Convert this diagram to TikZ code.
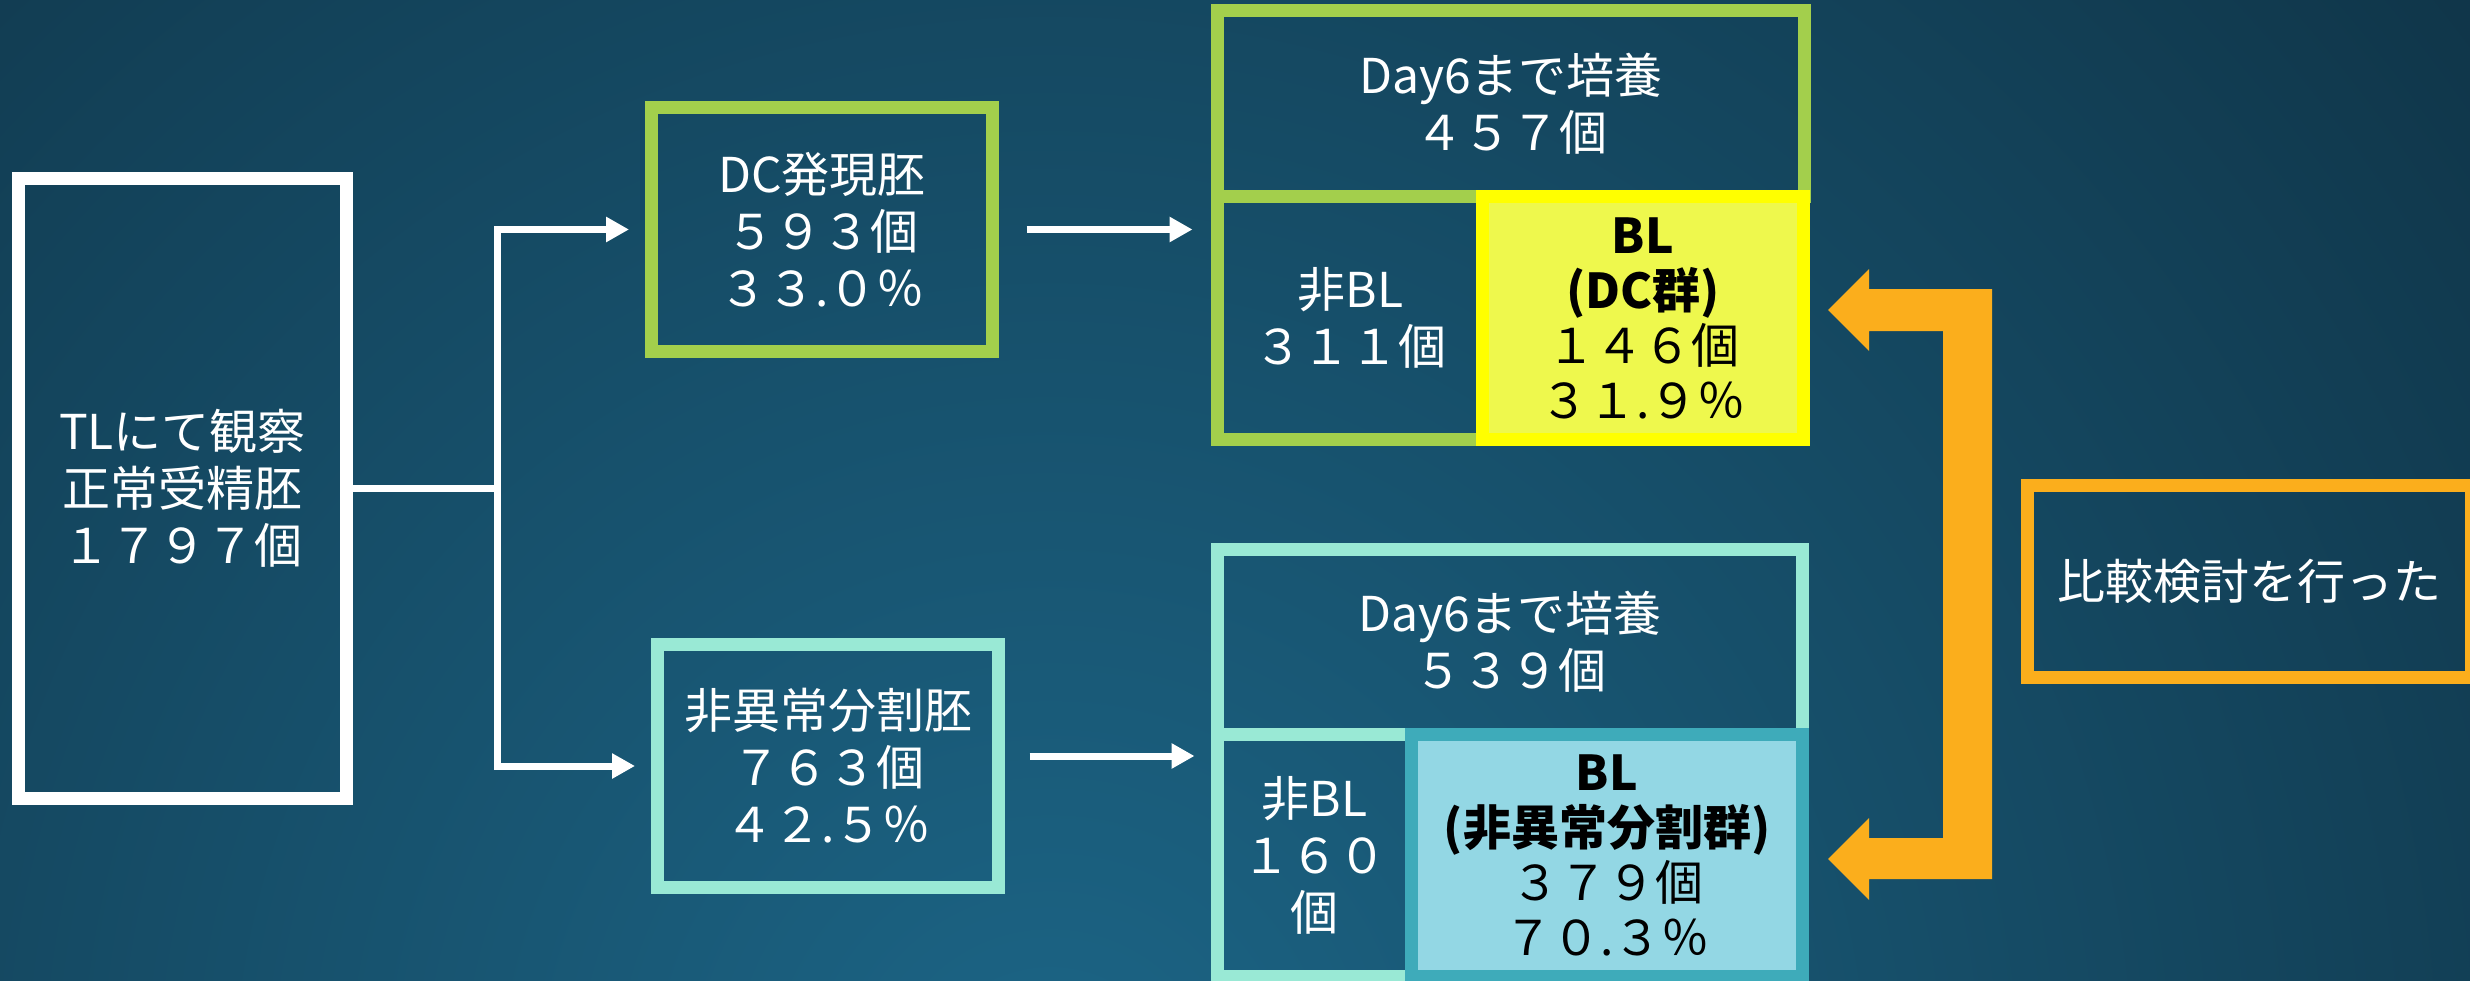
\documentclass[tikz,border=0pt]{standalone}
\usepackage{fontspec}
\setmainfont{Noto Sans CJK JP}
\usetikzlibrary{arrows.meta}
\definecolor{bgdark}{HTML}{0F3346}
\definecolor{bglight}{HTML}{1C6586}
\definecolor{dcgreen}{HTML}{A3CF4C}
\definecolor{mint}{HTML}{99E9D5}
\definecolor{yellowb}{HTML}{FFFF00}
\definecolor{yellowf}{HTML}{EEF84D}
\definecolor{tealb}{HTML}{3EABBA}
\definecolor{bluef}{HTML}{93D7E4}
\definecolor{orangec}{HTML}{FBAE1C}
\newcommand\fsz{\fontsize{48}{57}\selectfont}
\newcommand\fszb{\fontsize{48}{55}\selectfont}
\begin{document}
\begin{tikzpicture}[x=1pt,y=-1pt,
  box/.style={draw, rectangle, line width=13pt, inner sep=0pt, align=center, text=white, font=\fsz},
  blbox/.style={box, text=black, font=\fszb},
  conn/.style={draw=white, line width=7pt},
  arr/.style={conn, -{Triangle[length=23pt,width=24pt]}}]
\useasboundingbox (0,0) rectangle (2470,980);
\begin{scope}
  \clip (0,0) rectangle (2470,980);
  \fill[bgdark] (0,0) rectangle (2470,980);
  \shade[inner color=bglight, outer color=bgdark] (1050,1100) circle[radius=1900pt];
\end{scope}

% left box
\node[box, draw=white, minimum width=328pt, minimum height=620pt] (tl) at (182.5,488.5) {TLにて観察\\正常受精胚\\１７９７個};

% middle boxes
\node[box, draw=dcgreen, minimum width=341pt, minimum height=244pt] (dc) at (822,229.5) {DC発現胚\\５９３個\\３３.０％};
\node[box, draw=mint, minimum width=341pt, minimum height=243pt] (na) at (828,766) {非異常分割胚\\７６３個\\４２.５％};

% top group
\node[box, draw=dcgreen, minimum width=587pt, minimum height=186pt] (c1) at (1511,103.5) {Day6まで培養\\４５７個};
\node[box, draw=dcgreen, minimum width=266pt, minimum height=243pt] (n1) at (1350.5,318) {非BL\\３１１個};
\node[blbox, draw=yellowb, fill=yellowf, minimum width=321pt, minimum height=243pt] (y1) at (1643,318) {\textbf{BL}\\\textbf{(DC群)}\\１４６個\\３１.９％};

% bottom group
\node[box, draw=mint, minimum width=585pt, minimum height=185pt] (c2) at (1510,642) {Day6まで培養\\５３９個};
\node[box, draw=mint, minimum width=194pt, minimum height=242pt] (n2) at (1314.5,855.5) {非BL\\１６０\\個};
\node[blbox, draw=tealb, fill=bluef, minimum width=391pt, minimum height=242pt] (b2) at (1607,855.5) {\textbf{BL}\\\textbf{(非異常分割群)}\\３７９個\\７０.３％};

% comparison box
\node[box, draw=orangec, minimum width=444pt, minimum height=192pt] (cmp) at (2249.5,581.5) {比較検討を行った};

% connectors
\coordinate (j) at (497,488.5);
\draw[conn] (tl.east) -- (j);
\draw[arr, shorten >=16pt] (j) |- (dc.west);
\draw[arr, shorten >=16pt] (j) |- (na.west);
\draw[arr, shorten <=27.5pt, shorten >=18.5pt] (dc.east) -- (dc.east -| n1.west);
\draw[arr, shorten <=24.5pt, shorten >=16.5pt] ([yshift=10pt]na.east) -- ([yshift=10pt]na.east -| c2.west);

% orange double bracket arrow
\coordinate (ua) at (1828,310);
\coordinate (la) at (1828,859);
\fill[orangec] (ua) -- ++(41,-41) -- ++(0,20) -- ++(123,0) -- ++(0,590) -- ++(-123,0) -- ++(0,21)
  -- (la) -- ++(41,-41) -- ++(0,20) -- ++(74,0) -- ++(0,-507) -- ++(-74,0) -- ++(0,20) -- cycle;
\end{tikzpicture}
\end{document}
